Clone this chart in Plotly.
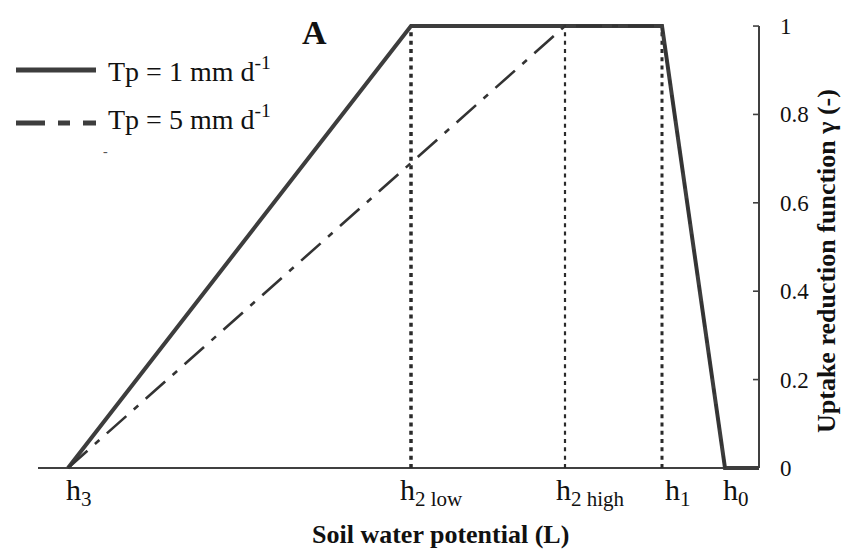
import plotly.graph_objects as go

# ---------------- data ----------------
# pressure-head points along the x axis (arbitrary position units)
H_NAMES = ["h3", "h2 low", "h2 high", "h1", "h0"]
H_LABELS = ["h<sub>3</sub>", "h<sub>2 low</sub>", "h<sub>2 high</sub>", "h<sub>1</sub>", "h<sub>0</sub>"]
H_POS = [30, 373, 527, 624, 687]
X_START = 0
X_END = 721

# Tp = 1 mm/d : reduction function
TP1_X = [30, 373, 624, 687, 721]
TP1_Y = [0, 1, 1, 0, 0]
# Tp = 5 mm/d : reduction function
TP5_X = [30, 527, 624, 687]
TP5_Y = [0, 1, 1, 0]

# vertical reference lines (h2 low, h2 high, h1)
VREF_X = [373, 527, 624]
VREF_Y = [0, 1]

Y_TICKS = [0, 0.2, 0.4, 0.6, 0.8, 1]
Y_TICK_TEXT = ["0", "0.2", "0.4", "0.6", "0.8", "1"]

SERIES_NAMES = ["Tp = 1 mm d<sup>-1</sup>", "Tp = 5 mm d<sup>-1</sup>"]

# ---------------- layout geometry ----------------
W, H = 851, 549
ML, MR, MT, MB = 20, 90, 7, 78
PW, PH = W - ML - MR, H - MT - MB
LINE = "#3d3d3d"
FONT = "Liberation Serif"


def px(x):
    return (x - ML) / PW


def py(y):
    return (H - MB - y) / PH


fig = go.Figure()

vref_widths = [3.5, 2.2, 3]
for xv, wv in zip(VREF_X, vref_widths):
    fig.add_trace(go.Scatter(x=[xv, xv], y=VREF_Y, mode="lines",
                             line=dict(color="#2a2a2a", width=wv, dash="4px,4.3px"),
                             showlegend=False, hoverinfo="skip"))

fig.add_trace(go.Scatter(x=TP1_X, y=TP1_Y, mode="lines", name=SERIES_NAMES[0],
                         line=dict(color=LINE, width=4), showlegend=False))
fig.add_trace(go.Scatter(x=TP5_X, y=TP5_Y, mode="lines", name=SERIES_NAMES[1],
                         line=dict(color="#333333", width=2.6, dash="26px,10px,6px,10px"),
                         showlegend=False))

shapes = []
# x axis line
shapes.append(dict(type="line", xref="x", yref="y", x0=X_START, x1=X_END, y0=0, y1=0,
                   line=dict(color="#404040", width=2), layer="below"))
# right y axis line
shapes.append(dict(type="line", xref="x", yref="y", x0=X_END, x1=X_END, y0=Y_TICKS[0], y1=Y_TICKS[-1],
                   line=dict(color="#404040", width=2), layer="below"))
# inward tick marks
for t in Y_TICKS:
    shapes.append(dict(type="line", xref="x", yref="y", x0=X_END - 6, x1=X_END, y0=t, y1=t,
                       line=dict(color="#404040", width=1.6), layer="below"))
# legend samples
shapes.append(dict(type="line", xref="paper", yref="paper", x0=px(8), x1=px(88), y0=py(62), y1=py(62),
                   line=dict(color=LINE, width=5)))
for a, b in [(8, 37), (50, 62), (75, 88)]:
    shapes.append(dict(type="line", xref="paper", yref="paper", x0=px(a), x1=px(b), y0=py(115), y1=py(115),
                       line=dict(color=LINE, width=5)))

ann = []
# x tick labels (left aligned, offset per label)
offsets = [-2, -11, -9, 3, -2]
for pos, lab, off in zip(H_POS, H_LABELS, offsets):
    ann.append(dict(x=pos, y=0, xref="x", yref="y", text=lab, showarrow=False,
                    xanchor="left", yanchor="top", xshift=off - 2, yshift=-3,
                    font=dict(family=FONT, size=30, color="#111")))
# legend texts
ann.append(dict(x=px(98), y=py(62), xref="paper", yref="paper", text=SERIES_NAMES[0], showarrow=False,
                xanchor="left", yanchor="middle", font=dict(family=FONT, size=28, color="#111")))
ann.append(dict(x=px(98), y=py(110), xref="paper", yref="paper", text=SERIES_NAMES[1], showarrow=False,
                xanchor="left", yanchor="middle", font=dict(family=FONT, size=28, color="#111")))
ann.append(dict(x=px(97), y=py(143), xref="paper", yref="paper", text="-", showarrow=False,
                xanchor="center", yanchor="middle", font=dict(family=FONT, size=14, color="#555")))
# panel letter
ann.append(dict(x=px(306), y=py(24), xref="paper", yref="paper", text="<b>A</b>", showarrow=False,
                xanchor="center", yanchor="middle", font=dict(family=FONT, size=34, color="#111")))
# axis titles
ann.append(dict(x=px(432), y=py(526), xref="paper", yref="paper", text="<b>Soil water potential (L)</b>",
                showarrow=False, xanchor="center", yanchor="middle",
                font=dict(family=FONT, size=26, color="#111")))
ann.append(dict(x=px(818), y=py(253), xref="paper", yref="paper",
                text="<b>Uptake reduction function γ (-)</b>", textangle=-90,
                showarrow=False, xanchor="center", yanchor="middle",
                font=dict(family=FONT, size=26, color="#111")))

fig.update_layout(
    width=W, height=H,
    margin=dict(l=ML, r=MR, t=MT, b=MB),
    paper_bgcolor="white", plot_bgcolor="white",
    showlegend=False,
    shapes=shapes, annotations=ann,
    xaxis=dict(range=[X_START - 10, X_START - 10 + PW], visible=False, fixedrange=True),
    yaxis=dict(range=[-0.025, 1.025], side="right", showgrid=False, zeroline=False,
               showline=False, ticks="", tickvals=Y_TICKS, ticktext=Y_TICK_TEXT,
               ticklabelstandoff=10,
               tickfont=dict(family=FONT, size=23, color="#111"), fixedrange=True),
)

fig.write_html("out.html")
